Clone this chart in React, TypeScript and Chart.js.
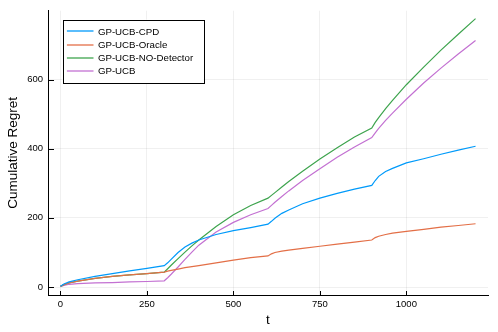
import React, { useEffect, useRef } from "react";
import { Chart, registerables } from "chart.js";

Chart.register(...registerables);

const tValues = [0, 10, 25, 50, 100, 150, 200, 250, 300, 310, 320, 340, 360, 380, 400, 450, 500, 550, 600, 610, 620, 640, 660, 700, 750, 800, 850, 900, 910, 920, 940, 960, 1000, 1050, 1100, 1150, 1200];

const cpdRegret = [2, 9, 15, 21, 31, 39, 47, 54, 62, 70, 80, 100, 116, 127, 136, 152, 163, 172, 182, 190, 199, 213, 223, 241, 257, 271, 283, 294, 308, 320, 334, 343, 359, 371, 384, 396, 407];
const oracleRegret = [2, 7, 12, 17, 25, 31, 35, 39, 43, 46, 48, 52, 56, 59, 62, 70, 78, 85, 90, 96, 100, 104, 107, 112, 118, 124, 130, 136, 143, 147, 152, 156, 161, 167, 173, 178, 183];
const noDetectorRegret = [2, 7, 12, 17, 25, 31, 35, 39, 43, 53, 63, 82, 101, 119, 136, 175, 209, 236, 257, 265, 273, 289, 305, 335, 370, 403, 434, 460, 476, 490, 516, 540, 585, 636, 685, 731, 776];
const ucbRegret = [2, 5, 8, 10, 12, 13, 15, 16, 18, 27, 37, 58, 80, 101, 121, 159, 187, 209, 227, 236, 245, 262, 278, 308, 342, 375, 405, 432, 446, 459, 482, 503, 543, 590, 633, 674, 713];

const seriesLabels = ["GP-UCB-CPD", "GP-UCB-Oracle", "GP-UCB-NO-Detector", "GP-UCB"];
const seriesColors = ["#009AFA", "#E36F47", "#3EA44E", "#C371D2"];

const xTicks = [0, 250, 500, 750, 1000];
const yTicks = [0, 200, 400, 600];

const FONT = "'Liberation Sans', Arial, sans-serif";

export default function App() {
  const ref = useRef<HTMLCanvasElement>(null);

  useEffect(() => {
    document.body.style.margin = "0";
    const canvas = ref.current;
    if (!canvas) return;
    const series = [cpdRegret, oracleRegret, noDetectorRegret, ucbRegret];

    const insideTicks = {
      id: "insideTicks",
      afterDatasetsDraw(chart: any) {
        const { ctx, chartArea, scales } = chart;
        ctx.save();
        ctx.strokeStyle = "#000";
        ctx.lineWidth = 1;
        ctx.beginPath();
        for (const v of yTicks) {
          const py = Math.round(scales.y.getPixelForValue(v)) + 0.5;
          ctx.moveTo(chartArea.left, py);
          ctx.lineTo(chartArea.left + 6, py);
        }
        for (const v of xTicks) {
          const px = Math.round(scales.x.getPixelForValue(v)) + 0.5;
          ctx.moveTo(px, chartArea.bottom);
          ctx.lineTo(px, chartArea.bottom - 4);
        }
        ctx.stroke();
        ctx.restore();
      },
    };

    const legendBox = {
      id: "legendBox",
      afterDraw(chart: any) {
        const { ctx, chartArea } = chart;
        ctx.save();
        ctx.font = `9.7px ${FONT}`;
        const maxW = Math.max(...seriesLabels.map((l) => ctx.measureText(l).width));
        const x0 = chartArea.left + 14.5;
        const y0 = chartArea.top + 9;
        const w = 35.4 + maxW + 10.6;
        const h = 63.3;
        ctx.fillStyle = "#fff";
        ctx.fillRect(x0, y0, w, h);
        ctx.strokeStyle = "#000";
        ctx.lineWidth = 1;
        ctx.strokeRect(Math.round(x0) + 0.5, Math.round(y0) + 0.5, Math.round(w), Math.round(h));
        seriesLabels.forEach((label, i) => {
          const yy = y0 + 11.7 + i * 13.3;
          ctx.strokeStyle = seriesColors[i];
          ctx.lineWidth = 1.3;
          ctx.beginPath();
          ctx.moveTo(x0 + 4.4, Math.round(yy));
          ctx.lineTo(x0 + 31, Math.round(yy));
          ctx.stroke();
          ctx.fillStyle = "#000";
          ctx.textBaseline = "middle";
          ctx.textAlign = "left";
          ctx.fillText(label, x0 + 35.4, yy + 0.5);
        });
        ctx.restore();
      },
    };

    const chart = new Chart(canvas, {
      type: "line",
      data: {
        datasets: series.map((vals, i) => ({
          label: seriesLabels[i],
          data: tValues.map((t, j) => ({ x: t, y: vals[j] })),
          borderColor: seriesColors[i],
          backgroundColor: seriesColors[i],
          borderWidth: 1.2,
          pointRadius: 0,
          tension: 0,
          fill: false,
        })),
      },
      options: {
        responsive: false,
        animation: false,
        layout: { padding: { top: 10, right: 10, left: 0, bottom: 0 } },
        plugins: { legend: { display: false }, tooltip: { enabled: false } },
        scales: {
          x: {
            type: "linear",
            min: -36,
            max: 1236,
            afterBuildTicks: (s: any) => {
              s.ticks = xTicks.map((v) => ({ value: v }));
            },
            afterFit: (s: any) => {
              s.height = 37;
            },
            grid: { color: "rgba(0,0,0,0.06)", drawTicks: false, lineWidth: 1 },
            border: { display: true, color: "#000", width: 1 },
            ticks: {
              font: { family: FONT, size: 9.5 },
              color: "#000",
              padding: 4,
              maxRotation: 0,
              callback: (v: any) => String(v),
            },
            title: {
              display: true,
              text: "t",
              color: "#000",
              font: { family: FONT, size: 13.5 },
              padding: { top: 0, bottom: 4 },
            },
          },
          y: {
            type: "linear",
            min: -23,
            max: 799,
            afterBuildTicks: (s: any) => {
              s.ticks = yTicks.map((v) => ({ value: v }));
            },
            afterFit: (s: any) => {
              s.width = 48;
            },
            grid: { color: "rgba(0,0,0,0.06)", drawTicks: false, lineWidth: 1 },
            border: { display: true, color: "#000", width: 1 },
            ticks: {
              font: { family: FONT, size: 9.5 },
              color: "#000",
              padding: 5,
              callback: (v: any) => String(v),
            },
            title: {
              display: true,
              text: "Cumulative Regret",
              color: "#000",
              font: { family: FONT, size: 13.5 },
              padding: { top: 5, bottom: 0 },
            },
          },
        },
      },
      plugins: [insideTicks, legendBox],
    });

    return () => chart.destroy();
  }, []);

  return (
    <div style={{ width: 498, height: 332 }}>
      <canvas ref={ref} width={498} height={332} />
    </div>
  );
}
